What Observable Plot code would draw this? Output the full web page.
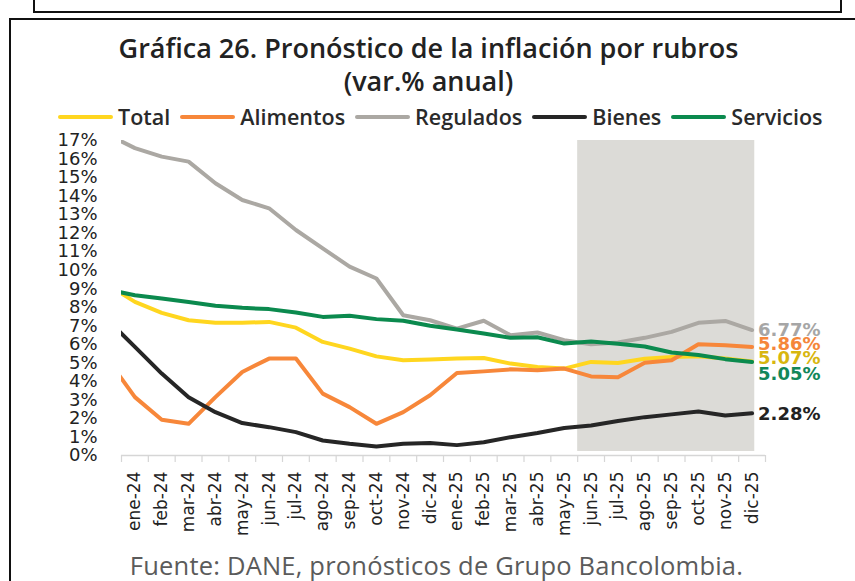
<!DOCTYPE html>
<html>
<head>
<meta charset="utf-8">
<script src="https://cdn.jsdelivr.net/npm/d3@7"></script>
<script src="https://cdn.jsdelivr.net/npm/@observablehq/plot@0.6"></script>
<style>
  html, body { margin: 0; padding: 0; background: #fff; }
  #wrap { position: relative; width: 855px; height: 581px; overflow: hidden; background: #fff; font-family: "Open Sans", sans-serif; }
  #topbox { position: absolute; left: 33px; top: -4px; width: 805px; height: 13px; border: 2px solid #111; }
  #frame { position: absolute; left: 9px; top: 18px; width: 900px; height: 620px; border: 2px solid #111; }
  #title { position: absolute; left: 0; top: 31px; width: 857px; text-align: center; font-weight: 600; font-size: 27px; line-height: 33px; color: #222; }
  #legend { position: absolute; top: 103px; left: 58px; display: flex; align-items: center; font-size: 21.5px; font-weight: 600; line-height: 28px; color: #2a2a2a; white-space: nowrap; }
  #legend .item { display: flex; align-items: center; margin-right: 10px; }
  #legend .sw { display: inline-block; width: 55px; height: 4px; border-radius: 2px; margin-right: 5px; }
  #chart { position: absolute; left: 0; top: 130px; }
  #caption { position: absolute; top: 550px; left: 0; width: 873px; text-align: center; font-size: 25.5px; letter-spacing: 0.2px; line-height: 30px; color: #5b5b5b; }
</style>
</head>
<body>
<div id="wrap">
  <div id="topbox"></div>
  <div id="frame"></div>
  <div id="title">Gráfica 26. Pronóstico de la inflación por rubros<br>(var.% anual)</div>
  <div id="legend"></div>
  <div id="chart"></div>
  <div id="caption">Fuente: DANE, pronósticos de Grupo Bancolombia.</div>
</div>
<script>
// Periods (dic-23 is only the clipped starting point of the lines)
const periods = ["dic-23",
  "ene-24","feb-24","mar-24","abr-24","may-24","jun-24","jul-24","ago-24","sep-24","oct-24","nov-24","dic-24",
  "ene-25","feb-25","mar-25","abr-25","may-25","jun-25","jul-25","ago-25","sep-25","oct-25","nov-25","dic-25"];
const months = periods.slice(1); // tick labels

const seriesNames = ["Total", "Alimentos", "Regulados", "Bienes", "Servicios"];

const total     = [9.19, 8.29, 7.70, 7.30, 7.16, 7.16, 7.21, 6.90, 6.13, 5.77, 5.35, 5.14, 5.18,
                   5.23, 5.26, 4.96, 4.78, 4.69, 5.05, 4.99, 5.22, 5.32, 5.35, 5.23, 5.07];
const alimentos = [5.15, 3.15, 1.93, 1.71, 3.15, 4.51, 5.23, 5.23, 3.34, 2.61, 1.71, 2.34, 3.25,
                   4.45, 4.54, 4.65, 4.60, 4.69, 4.27, 4.22, 5.00, 5.14, 6.00, 5.95, 5.86];
const regulados = [17.31, 16.59, 16.13, 15.86, 14.69, 13.79, 13.34, 12.17, 11.18, 10.19, 9.55, 7.57, 7.30,
                   6.85, 7.27, 6.49, 6.64, 6.22, 6.00, 6.10, 6.35, 6.67, 7.16, 7.26, 6.77];
const bienes    = [7.30, 5.86, 4.42, 3.15, 2.34, 1.75, 1.53, 1.26, 0.81, 0.63, 0.49, 0.63, 0.67,
                   0.56, 0.72, 0.99, 1.21, 1.48, 1.62, 1.86, 2.07, 2.22, 2.38, 2.16, 2.28];
const servicios = [8.95, 8.65, 8.47, 8.29, 8.08, 7.97, 7.90, 7.72, 7.48, 7.54, 7.36, 7.27, 7.00,
                   6.80, 6.58, 6.35, 6.38, 6.04, 6.15, 6.03, 5.88, 5.56, 5.42, 5.20, 5.05];

const yTicks = d3.range(0, 18);
const forecastStart = "jun-25";
const forecastEnd = "dic-25";

// styling
const lineColors  = {Total: "#FFD61F", Alimentos: "#F7873A", Regulados: "#ABA8A3", Bienes: "#262626", Servicios: "#0B8A4E"};
const labelColors = {Total: "#D8B60F", Alimentos: "#F5863A", Regulados: "#A6A6A6", Bienes: "#222222", Servicios: "#12875A"};
const labelDy     = {Total: -3, Alimentos: -3, Regulados: 0, Bienes: 1, Servicios: 12};

const valuesByName = {Total: total, Alimentos: alimentos, Regulados: regulados, Bienes: bienes, Servicios: servicios};
const rows = seriesNames.flatMap(name =>
  valuesByName[name].map((v, i) => ({serie: name, t: i - 1, period: periods[i], v})));
const seriesRows = name => rows.filter(r => r.serie === name);

// legend
const legend = document.getElementById("legend");
for (const name of seriesNames) {
  const it = document.createElement("span");
  it.className = "item";
  it.innerHTML = `<span class="sw" style="background:${lineColors[name]}"></span><span>${name}</span>`;
  legend.appendChild(it);
}

const chart = Plot.plot({
  width: 855,
  height: 420,
  marginLeft: 121,
  marginRight: 90,
  marginTop: 10,
  marginBottom: 95,
  style: {background: "transparent", overflow: "visible", fontFamily: "DejaVu Sans"},
  x: {type: "linear", domain: [-0.5, months.length - 0.5], label: null},
  y: {domain: [0, 17], label: null},
  marks: [
    Plot.rect([{start: forecastStart, end: forecastEnd}], {
      x1: d => months.indexOf(d.start) - 0.5,
      x2: d => months.indexOf(d.end) + 0.1,
      y1: 0, y2: 17, insetBottom: 4,
      fill: "#dcdbd7"
    }),
    Plot.ruleY([0], {stroke: "#d6d6d6", strokeWidth: 1.5}),
    Plot.axisX(d3.range(-0.5, months.length, 1), {tickSize: 7, stroke: "#d6d6d6", tickFormat: () => "", strokeWidth: 1.2, label: null}),
    Plot.axisX(d3.range(0, months.length), {
      tickSize: 0, tickPadding: 16, tickRotate: -90,
      tickFormat: i => months[i], label: null,
      fontSize: 17, fontFamily: "DejaVu Sans", fill: "#222"
    }),
    Plot.axisY(yTicks, {
      tickSize: 0, tickPadding: 24, label: null,
      tickFormat: d => d + "%",
      fontSize: 18, fontFamily: "DejaVu Sans", fill: "#222"
    }),
    ...seriesNames.map(name => Plot.line(seriesRows(name), {
      x: "t", y: "v", stroke: lineColors[name], strokeWidth: 4, clip: true
    })),
    ...seriesNames.map(name => Plot.text([seriesRows(name).at(-1)], {
      x: "t", y: "v",
      text: d => d3.format(".2f")(d.v) + "%",
      textAnchor: "start", dx: 6, dy: labelDy[name],
      fill: labelColors[name],
      fontWeight: "bold", fontSize: 18, fontFamily: "DejaVu Sans"
    }))
  ]
});
document.getElementById("chart").appendChild(chart);
</script>
</body>
</html>
